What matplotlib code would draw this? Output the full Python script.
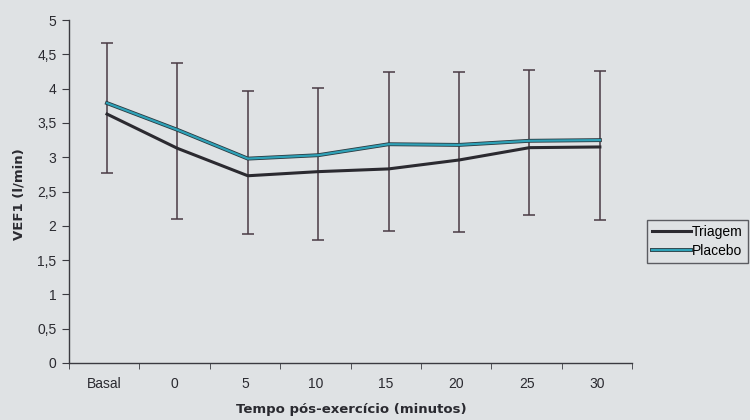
import matplotlib
matplotlib.use("Agg")
import matplotlib.pyplot as plt
import matplotlib.patheffects as pe
import numpy as np

categories = ["Basal", "0", "5", "10", "15", "20", "25", "30"]
triagem = [3.63, 3.13, 2.73, 2.79, 2.83, 2.96, 3.14, 3.15]
placebo = [3.79, 3.40, 2.98, 3.03, 3.19, 3.18, 3.24, 3.25]
err_low = [2.77, 2.10, 1.88, 1.80, 1.92, 1.91, 2.16, 2.08]
err_high = [4.67, 4.38, 3.97, 4.01, 4.25, 4.24, 4.27, 4.26]
yticks = [0, 0.5, 1, 1.5, 2, 2.5, 3, 3.5, 4, 4.5, 5]
ytick_labels = ["0", "0,5", "1", "1,5", "2", "2,5", "3", "3,5", "4", "4,5", "5"]

bg = "#dfe2e4"
axc = "#3a3a40"
plt.rcParams["font.family"] = ["Liberation Sans", "DejaVu Sans"]

fig = plt.figure(figsize=(7.5, 4.2), dpi=100, facecolor=bg)
ax = fig.add_axes([0.092, 0.136, 0.751, 0.816], facecolor=bg)

x = np.arange(len(categories)) + 0.04
pl = np.array(placebo)
ax.errorbar(x, pl, yerr=[pl - np.array(err_low), np.array(err_high) - pl],
            fmt="none", ecolor="#4a3a44", elinewidth=1.1, capsize=4, capthick=1.1, zorder=2)
ax.plot(x, triagem, color="#2b2a30", lw=2.2, label="Triagem", zorder=3)
ax.plot(x, placebo, color="#2fa2b8", lw=1.6, label="Placebo", zorder=4,
        path_effects=[pe.Stroke(linewidth=2.8, foreground="#2b3a40"), pe.Normal()])

ax.set_xlim(-0.5, len(categories) - 0.5)
ax.set_ylim(0, 5)
ax.set_yticks(yticks)
ax.set_yticklabels(ytick_labels)
ax.set_xticks(np.arange(len(categories)))
ax.set_xticklabels(categories)
ax.set_xticks(np.arange(len(categories) + 1) - 0.5, minor=True)
ax.tick_params(axis="x", which="major", length=0, pad=10, labelsize=10, colors="#2a2a30")
ax.tick_params(axis="x", which="minor", length=4, direction="out", color=axc)
ax.tick_params(axis="y", length=5, direction="out", color=axc, labelsize=10,
               labelcolor="#2a2a30", pad=4)

for s in ["top", "right"]:
    ax.spines[s].set_visible(False)
for s in ["left", "bottom"]:
    ax.spines[s].set_color(axc)
    ax.spines[s].set_linewidth(1.0)

fig.text(351 / 750, 1 - 410 / 420, "Tempo pós-exercício (minutos)", fontsize=9.5,
         fontweight="bold", color="#2a2a30", family="DejaVu Sans", ha="center", va="center")
fig.text(19 / 750, 1 - 194 / 420, "VEF1 (l/min)", fontsize=9.5, fontweight="bold",
         color="#2a2a30", family="DejaVu Sans", ha="center", va="center", rotation=90)

leg = ax.legend(loc="center left", bbox_to_anchor=(1.027, 0.354), frameon=True,
                fancybox=False, edgecolor="#3a3a40", facecolor=bg, fontsize=10,
                handlelength=2.8, handletextpad=0.05, borderpad=0.35, labelspacing=0.35,
                borderaxespad=0)
leg.get_frame().set_linewidth(1.0)

fig.savefig("out.png", dpi=100, facecolor=bg)
